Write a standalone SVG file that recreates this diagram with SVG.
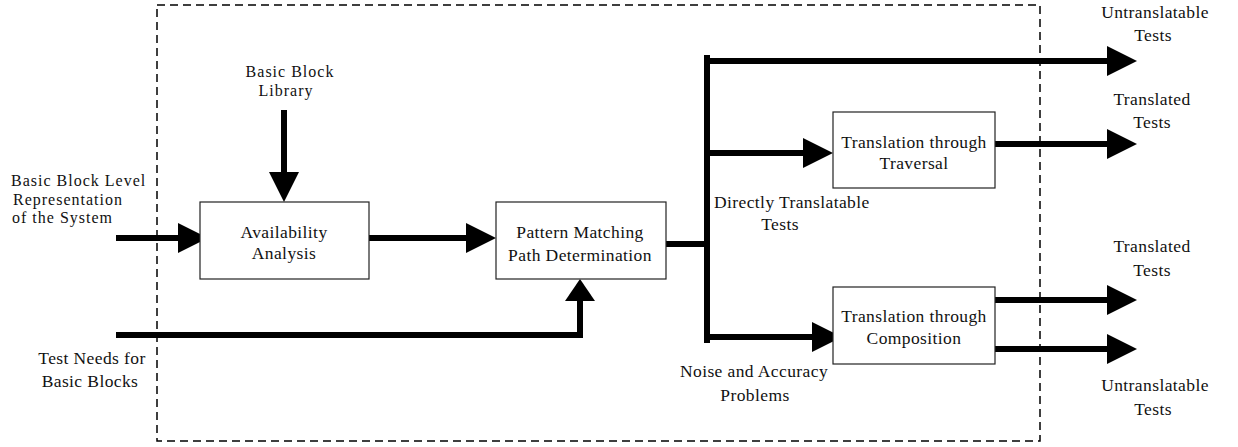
<svg xmlns="http://www.w3.org/2000/svg" width="1238" height="447" viewBox="0 0 1238 447">
  <style>
    text { font-family: "Liberation Serif", "Times New Roman", serif; font-size: 17.5px; fill: #111; letter-spacing: 0.4px; }
    .c { text-anchor: middle; }
    .tight { font-size: 16px; letter-spacing: 1px; }
    .box { fill: #fff; stroke: #222; stroke-width: 1.2; }
    .flow { fill: none; stroke: #000; stroke-width: 6; }
    .frame { fill: none; stroke: #000; stroke-width: 1.5; stroke-dasharray: 8 5; }
  </style>
  <defs>
    <marker id="ah" viewBox="0 0 30 30" markerWidth="30" markerHeight="30" markerUnits="userSpaceOnUse" refX="10" refY="15" orient="auto">
      <path d="M0,0 L30,15 L0,30 z" fill="#000"/>
    </marker>
    <marker id="ahs" viewBox="0 0 22 30" markerWidth="22" markerHeight="30" markerUnits="userSpaceOnUse" refX="7" refY="15" orient="auto">
      <path d="M0,0 L22,15 L0,30 z" fill="#000"/>
    </marker>
  </defs>

  <!-- system boundary -->
  <rect class="frame" x="157" y="5" width="883" height="436"/>

  <!-- connectors -->
  <g id="connectors">
    <path class="flow" d="M116,238 H188" marker-end="url(#ah)"/>
    <path class="flow" d="M284,110 V182" marker-end="url(#ah)"/>
    <path class="flow" d="M369,238 H476" marker-end="url(#ah)"/>
    <path class="flow" d="M116,335 H580 V294" marker-end="url(#ahs)"/>
    <path class="flow" d="M666,244 H707"/>
    <path class="flow" d="M707,58 V340" stroke-linecap="square"/>
    <path class="flow" d="M707,61 H1117" marker-end="url(#ah)"/>
    <path class="flow" d="M707,153 H813" marker-end="url(#ah)"/>
    <path class="flow" d="M707,337 H822" marker-end="url(#ah)"/>
    <path class="flow" d="M995,144 H1117" marker-end="url(#ah)"/>
    <path class="flow" d="M995,300 H1117" marker-end="url(#ah)"/>
    <path class="flow" d="M995,349 H1117" marker-end="url(#ah)"/>
  </g>

  <!-- process blocks -->
  <g id="availability">
    <rect class="box" x="200" y="202" width="169" height="77"/>
    <text class="c" x="284" y="238">Availability</text>
    <text class="c" x="284" y="259">Analysis</text>
  </g>
  <g id="pattern-matching">
    <rect class="box" x="496" y="202" width="170" height="77"/>
    <text class="c" x="580" y="238">Pattern Matching</text>
    <text class="c" x="580" y="261">Path Determination</text>
  </g>
  <g id="traversal">
    <rect class="box" x="833" y="112" width="162" height="76"/>
    <text class="c" x="914" y="148">Translation through</text>
    <text class="c" x="914" y="169">Traversal</text>
  </g>
  <g id="composition">
    <rect class="box" x="833" y="287" width="162" height="77"/>
    <text class="c" x="914" y="322">Translation through</text>
    <text class="c" x="914" y="344">Composition</text>
  </g>

  <!-- inputs -->
  <g id="bb-level">
    <text class="tight" x="11" y="186">Basic Block Level</text>
    <text class="tight" x="13" y="204.5">Representation</text>
    <text class="tight" x="12" y="223">of the System</text>
  </g>
  <g id="bb-library">
    <text class="c tight" x="290" y="77">Basic Block</text>
    <text class="c tight" x="286" y="95.5">Library</text>
  </g>
  <g id="test-needs">
    <text class="c" x="92" y="364">Test Needs for</text>
    <text class="c" x="90" y="387">Basic Blocks</text>
  </g>

  <!-- branch labels -->
  <g id="direct-label">
    <text x="714" y="208">Directly Translatable</text>
    <text class="c" x="780" y="230">Tests</text>
  </g>
  <g id="noise-label">
    <text class="c" x="754" y="377">Noise and Accuracy</text>
    <text class="c" x="755" y="401">Problems</text>
  </g>

  <!-- outputs -->
  <g id="out-untranslatable-1">
    <text class="c" x="1155" y="18">Untranslatable</text>
    <text class="c" x="1153" y="41">Tests</text>
  </g>
  <g id="out-translated-1">
    <text class="c" x="1152" y="105">Translated</text>
    <text class="c" x="1152" y="128">Tests</text>
  </g>
  <g id="out-translated-2">
    <text class="c" x="1152" y="252">Translated</text>
    <text class="c" x="1152" y="276">Tests</text>
  </g>
  <g id="out-untranslatable-2">
    <text class="c" x="1155" y="391">Untranslatable</text>
    <text class="c" x="1153" y="415">Tests</text>
  </g>
</svg>
